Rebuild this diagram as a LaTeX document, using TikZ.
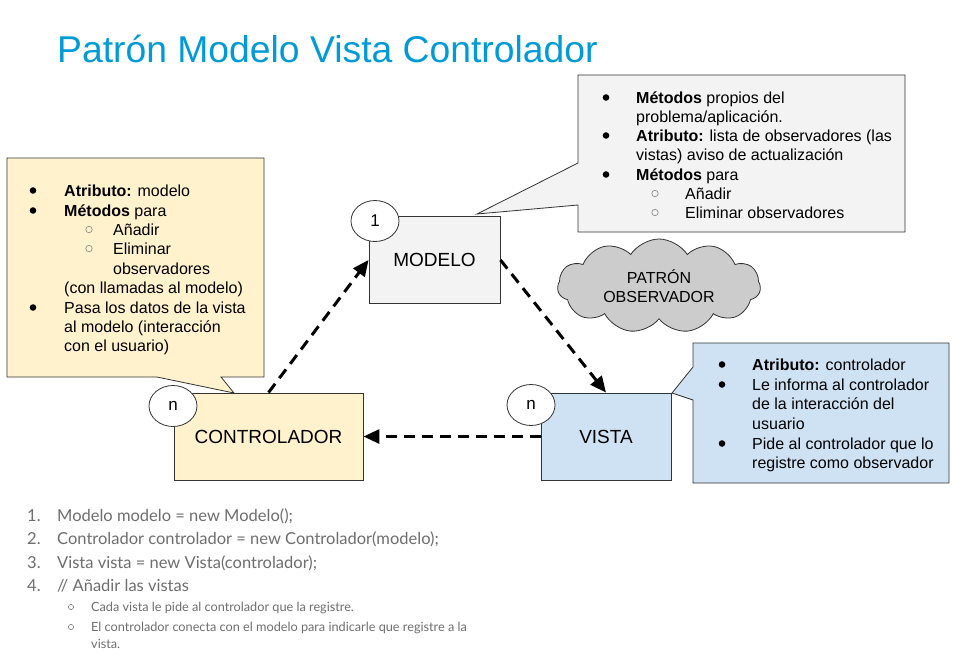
\documentclass[tikz,border=0pt]{standalone}
\usepackage{fontspec}
\setmainfont{Liberation Sans}
\newfontfamily\listfont{Lato}
\usetikzlibrary{arrows.meta,shapes.symbols,shapes.geometric}
\definecolor{titleblue}{RGB}{0,155,214}
\definecolor{modelfill}{RGB}{243,243,243}
\definecolor{ctrlfill}{RGB}{255,242,204}
\definecolor{viewfill}{RGB}{207,226,243}
\definecolor{cloudfill}{RGB}{204,204,204}
\definecolor{edgegray}{RGB}{51,51,51}
\definecolor{listgray}{RGB}{110,110,110}
\tikzset{
  classbox/.style={draw=edgegray, line width=0.9pt, minimum width=#1, minimum height=87pt, inner sep=0pt, font=\fontsize{19}{22}\selectfont},
  countmark/.style={ellipse, draw=edgegray, fill=white, line width=0.8pt, minimum width=48pt, minimum height=41pt, inner sep=0pt, font=\fontsize{17}{20}\selectfont},
  callout/.style={draw=edgegray, line width=0.8pt},
  ctxt/.style={anchor=base west, inner sep=0pt, font=\fontsize{16}{19}\selectfont},
  dot/.style={fill=black},
  ring/.style={draw=gray, line width=0.6pt},
  flow/.style={line width=3pt, dash pattern=on 11pt off 7pt, -{Triangle[length=16pt,width=14pt]}},
  ltxt/.style={anchor=base west, inner sep=0pt, text=listgray, font=\listfont\fontsize{16.5}{19}\selectfont},
  stxt/.style={anchor=base west, inner sep=0pt, text=listgray, font=\listfont\fontsize{12.7}{15}\selectfont},
}
\begin{document}
\begin{tikzpicture}[x=1pt,y=-1pt]
\useasboundingbox (0,0) rectangle (957,666);
\fill[white] (0,0) rectangle (957,666);

% title
\node[anchor=base west, inner sep=0pt, text=titleblue, font=\fontsize{37.3}{40}\selectfont] (title) at (57,63) {Patrón Modelo Vista Controlador};

% callout of the controller
\filldraw[callout, fill=ctrlfill] (7,158) -- (264,158) -- (264,377) -- (221,377) -- (234,393) -- (157,377) -- (7,377) -- cycle;
\foreach \yy in {196,216,313} \fill[dot] (33,\yy-5.5) circle (3.3pt);
\foreach \yy in {235,254} \draw[ring] (89,\yy-5.5) circle (3.2pt);
\node[ctxt] (c1) at (64,196) {\textbf{Atributo:} modelo};
\node[ctxt] (c2) at (64,216) {\textbf{Métodos} para};
\node[ctxt] (c3) at (113,235) {Añadir};
\node[ctxt] (c4) at (113,254) {Eliminar};
\node[ctxt] (c5) at (113,274) {observadores};
\node[ctxt] (c6) at (64,293) {(con llamadas al modelo)};
\node[ctxt] (c7) at (64,313) {Pasa los datos de la vista};
\node[ctxt] (c8) at (64,332) {al modelo (interacción};
\node[ctxt] (c9) at (64,351) {con el usuario)};

% callout of the model
\filldraw[callout, fill=modelfill] (578,75) -- (905,75) -- (905,232) -- (578,232) -- (578,205) -- (477,214) -- (578,163) -- cycle;
\foreach \yy in {103,141,180} \fill[dot] (606,\yy-5.5) circle (3.3pt);
\foreach \yy in {199,218} \draw[ring] (655,\yy-5.5) circle (3.2pt);
\node[ctxt] (m1) at (636,103) {\textbf{Métodos} propios del};
\node[ctxt] (m2) at (636,122) {problema/aplicación.};
\node[ctxt] (m3) at (636,141) {\textbf{Atributo:} lista de observadores (las};
\node[ctxt] (m4) at (636,160) {vistas) aviso de actualización};
\node[ctxt] (m5) at (636,180) {\textbf{Métodos} para};
\node[ctxt] (m6) at (685,199) {Añadir};
\node[ctxt] (m7) at (685,218) {Eliminar observadores};

% callout of the view
\filldraw[callout, fill=viewfill] (693,343) -- (949,343) -- (949,483) -- (693,483) -- (693,400) -- (672,393) -- (693,367) -- cycle;
\foreach \yy in {370,390,449} \fill[dot] (722,\yy-5.5) circle (3.3pt);
\node[ctxt] (v1) at (752,370) {\textbf{Atributo:} controlador};
\node[ctxt] (v2) at (752,390) {Le informa al controlador};
\node[ctxt] (v3) at (752,409) {de la interacción del};
\node[ctxt] (v4) at (752,429) {usuario};
\node[ctxt] (v5) at (752,449) {Pide al controlador que lo};
\node[ctxt] (v6) at (752,468) {registre como observador};

% observer cloud
\node[cloud, draw=edgegray, fill=cloudfill, line width=0.8pt, cloud puffs=11, cloud puff arc=115, aspect=2.2, minimum width=203pt, minimum height=94pt, inner sep=0pt, align=center, font=\fontsize{16}{19}\selectfont] (obs) at (659,286) {PATRÓN\\OBSERVADOR};

% the three classes
\node[classbox=131pt, fill=modelfill] (modelo) at (434.5,260) {MODELO};
\node[classbox=189pt, fill=ctrlfill] (ctrl) at (268.5,436.5) {CONTROLADOR};
\node[classbox=130pt, fill=viewfill] (vista) at (606,436.5) {VISTA};

% multiplicities
\node[countmark] (mult1) at (375,221) {1};
\node[countmark] (multc) at (173,406) {n};
\node[countmark] (multv) at (531,405) {n};

% relations
\draw[flow] (ctrl.north) -- (modelo.west);
\draw[flow] (modelo.east) -- (vista.north);
\draw[flow] (vista.west) -- (ctrl.east);

% creation steps
\node[ltxt] (n1) at (27,521) {1.};
\node[ltxt] (n2) at (27,544) {2.};
\node[ltxt] (n3) at (27,568) {3.};
\node[ltxt] (n4) at (27,591) {4.};
\node[ltxt] (l1) at (57,521) {Modelo modelo = new Modelo();};
\node[ltxt] (l2) at (57,544) {Controlador controlador = new Controlador(modelo);};
\node[ltxt] (l3) at (57,568) {Vista vista = new Vista(controlador);};
\node[ltxt] (l4) at (57,591) {// Añadir las vistas};
\foreach \yy in {611,631} \draw[listgray, line width=0.5pt] (71,\yy-4) circle (2.6pt);
\node[stxt] (s1) at (91,611) {Cada vista le pide al controlador que la registre.};
\node[stxt] (s2) at (91,631) {El controlador conecta con el modelo para indicarle que registre a la};
\node[stxt] (s3) at (91,648) {vista.};
\end{tikzpicture}
\end{document}
